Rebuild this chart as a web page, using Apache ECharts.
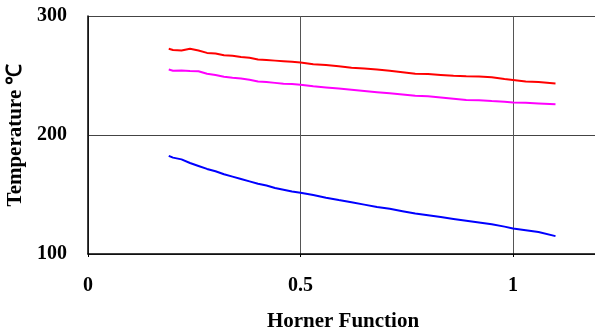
<!DOCTYPE html>
<html>
<head>
<meta charset="utf-8">
<script src="https://cdn.jsdelivr.net/npm/echarts@6/dist/echarts.min.js"></script>
<style>
  html, body { margin: 0; padding: 0; background: #fff; }
  #chart { width: 595px; height: 331px; }
</style>
</head>
<body>
<div id="chart"></div>
<script>
// horner function values (x)
var hornerX = [0.19, 0.2, 0.22, 0.24, 0.26, 0.28, 0.30, 0.32, 0.34, 0.36, 0.38, 0.40, 0.42, 0.44, 0.46, 0.48, 0.50,
  0.53, 0.56, 0.59, 0.62, 0.65, 0.68, 0.71, 0.74, 0.77, 0.80, 0.83, 0.86, 0.89, 0.92, 0.95, 0.98, 1.00, 1.03, 1.06, 1.10];

// temperatures
var redTemp = [272.5, 271.5, 271, 272.5, 271, 269, 268.5, 267, 266.5, 265.5, 265, 263.5, 263, 262.5, 262, 261.5, 261,
  259.5, 258.8, 257.8, 256.5, 255.8, 255, 254, 252.8, 251.5, 251.2, 250.5, 249.8, 249.4, 249.2, 248.5, 247, 246.3, 245, 244.5, 243.3];
var magentaTemp = [255, 254, 254.3, 253.8, 253.5, 251.5, 250.5, 249, 248.2, 247.5, 246.5, 245, 244.5, 243.8, 243, 242.8, 242.3,
  241, 240, 239, 238, 237, 236, 235, 234, 233, 232.5, 231.5, 230.5, 229.5, 229.2, 228.5, 228, 227.4, 227, 226.5, 225.8];
var blueTemp = [182.5, 181, 179.5, 176.5, 174, 171.5, 169.5, 167, 165, 163, 161, 159, 157.5, 155.5, 154, 152.5, 151.5,
  149.5, 147.3, 145.3, 143.5, 141.5, 139.5, 138, 136, 134, 132.5, 131, 129.5, 128, 126.5, 125, 123, 121.5, 120, 118.5, 115];

var seriesNames = ['red', 'magenta', 'blue'];
var seriesColors = ['#ff0000', '#ff00ff', '#0000ff'];

function pairs(ys) {
  var out = [];
  for (var i = 0; i < hornerX.length; i++) {
    out.push([hornerX[i], ys[i]]);
  }
  return out;
}

var font = 'Liberation Serif, Times New Roman, serif';
var chart = echarts.init(document.getElementById('chart'));

chart.setOption({
  animation: false,
  grid: { left: 88, top: 16, right: -3, bottom: 77, outerBoundsMode: 'none', containLabel: false },
  xAxis: {
    type: 'value',
    min: 0, max: 1.2, interval: 0.5,
    name: 'Horner Function',
    nameLocation: 'middle',
    nameGap: 57,
    nameTextStyle: { fontFamily: font, fontWeight: 'bold', fontSize: 21, color: '#000' },
    axisLine: { show: true, lineStyle: { color: '#000', width: 1.5 } },
    axisTick: { show: true, length: 3, lineStyle: { color: '#000' } },
    axisLabel: {
      margin: 22, showMaxLabel: false,
      fontFamily: font, fontWeight: 'bold', fontSize: 20, color: '#000'
    },
    splitLine: { show: true, lineStyle: { color: '#555', width: 1 } }
  },
  yAxis: {
    type: 'value',
    min: 100, max: 300, interval: 100,
    name: 'Temperature ℃',
    nameLocation: 'middle',
    nameGap: 59,
    nameTextStyle: { fontFamily: font, fontWeight: 'bold', fontSize: 21, color: '#000' },
    axisLine: { show: true, lineStyle: { color: '#000', width: 1.5 } },
    axisTick: { show: false },
    axisLabel: { margin: 21, fontFamily: font, fontWeight: 'bold', fontSize: 20, color: '#000' },
    splitLine: { show: true, lineStyle: { color: '#444', width: 1 } }
  },
  series: [redTemp, magentaTemp, blueTemp].map(function (ys, i) {
    return {
      name: seriesNames[i],
      type: 'line',
      data: pairs(ys),
      showSymbol: false,
      lineStyle: { color: seriesColors[i], width: 2 }
    };
  })
});
</script>
</body>
</html>
